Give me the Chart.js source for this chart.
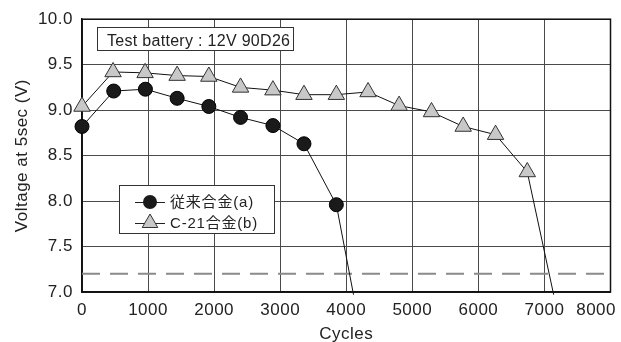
<!DOCTYPE html>
<html lang="ja">
<head>
  <meta charset="UTF-8">
  <title>Voltage at 5sec vs Cycles</title>
  <script src="https://cdn.jsdelivr.net/npm/chart.js"></script>
  <style>
    html, body {
      margin: 0;
      padding: 0;
      background: #fff;
    }
    #wrap {
      width: 621px;
      height: 342px;
      position: relative;
    }
  </style>
</head>
<body>
  <div id="wrap"><canvas id="chart"></canvas></div>

  <script>
    // 従来合金(a)
    const cyclesA = [0, 480, 960, 1440, 1920, 2400, 2890, 3360, 3850, 4110];
    const voltA   = [8.82, 9.21, 9.23, 9.13, 9.04, 8.92, 8.83, 8.63, 7.96, 6.97];
    // C-21合金(b)
    const cyclesB = [0, 470, 955, 1440, 1920, 2400, 2890, 3360, 3850, 4330, 4800, 5290, 5770, 6260, 6740, 7140];
    const voltB   = [9.04, 9.42, 9.41, 9.38, 9.37, 9.25, 9.22, 9.17, 9.17, 9.20, 9.05, 8.98, 8.82, 8.73, 8.32, 6.97];

    const seriesNames = ['従来合金(a)', 'C-21合金(b)'];
    const xTickLabels = ['0', '1000', '2000', '3000', '4000', '5000', '6000', '7000', '8000'];
    const yTickLabels = ['7.0', '7.5', '8.0', '8.5', '9.0', '9.5', '10.0'];
    const limitVoltage = 7.2;
    const noteText = 'Test battery : 12V 90D26';

    const FONT = "'Liberation Sans', Arial, sans-serif";
    const JFONT = "'Liberation Sans', 'Noto Sans CJK JP', sans-serif";

    const toPoints = (xs, ys) => xs.map((x, i) => ({ x: x, y: ys[i] }));
    // last point of each series is where the line leaves the plot: no marker
    const radii = (n, r) => Array.from({ length: n }, (_, i) => (i === n - 1 ? 0 : r));

    const extras = {
      id: 'extras',
      beforeDraw(chart) {
        chart.ctx.letterSpacing = '0.5px';
      },
      beforeDatasetsDraw(chart) {
        const { ctx, chartArea: a } = chart;
        ctx.save();
        ctx.strokeStyle = '#111';
        ctx.lineWidth = 1.5;
        ctx.strokeRect(a.left, a.top, a.right - a.left, a.bottom - a.top);
        ctx.restore();
      },
      afterDraw(chart) {
        const { ctx, chartArea: a } = chart;
        const xs = chart.scales.x;
        ctx.save();
        ctx.letterSpacing = '0.5px';
        ctx.fillStyle = '#222';
        ctx.textBaseline = 'alphabetic';

        // x tick labels
        ctx.font = '17px ' + FONT;
        xTickLabels.forEach(t => {
          const px = xs.getPixelForValue(Number(t));
          const w = ctx.measureText(t).width;
          ctx.textAlign = 'center';
          let cx = px;
          if (px + w / 2 > chart.width - 4) cx = chart.width - 5 - w / 2;
          ctx.fillText(t, cx, 315);
        });
        // x title
        ctx.textAlign = 'center';
        ctx.fillText('Cycles', (a.left + a.right) / 2, 339);

        // note box
        ctx.fillStyle = '#fff';
        ctx.fillRect(97, 27, 197, 23);
        ctx.strokeStyle = '#333';
        ctx.lineWidth = 1;
        ctx.strokeRect(97.5, 27.5, 196, 23);
        ctx.fillStyle = '#222';
        ctx.font = '16px ' + FONT;
        ctx.letterSpacing = '0.3px';
        ctx.textAlign = 'left';
        ctx.fillText(noteText, 107, 46);

        // legend box
        ctx.fillStyle = '#fff';
        ctx.fillRect(119, 185, 155, 48);
        ctx.strokeStyle = '#333';
        ctx.strokeRect(119.5, 185.5, 155, 48);
        const rows = [202, 223];
        rows.forEach((y, i) => {
          ctx.strokeStyle = '#222';
          ctx.lineWidth = 1;
          ctx.beginPath();
          ctx.moveTo(135, y + 0.5);
          ctx.lineTo(165, y + 0.5);
          ctx.stroke();
          ctx.beginPath();
          if (i === 0) {
            ctx.fillStyle = '#1a1a1a';
            ctx.arc(150, y, 7, 0, Math.PI * 2);
            ctx.fill();
          } else {
            const r = 9;
            ctx.fillStyle = '#c8c8c8';
            ctx.strokeStyle = '#333';
            ctx.moveTo(150, y - r);
            ctx.lineTo(150 + r * 0.866, y + r * 0.5);
            ctx.lineTo(150 - r * 0.866, y + r * 0.5);
            ctx.closePath();
            ctx.fill();
            ctx.stroke();
          }
          ctx.fillStyle = '#222';
          ctx.font = '15px ' + JFONT;
          ctx.letterSpacing = '0.8px';
          ctx.textBaseline = 'middle';
          ctx.fillText(seriesNames[i], 170, y + 1);
          ctx.textBaseline = 'alphabetic';
        });
        ctx.restore();
      }
    };

    new Chart(document.getElementById('chart'), {
      type: 'scatter',
      data: {
        datasets: [
          {
            label: seriesNames[0],
            data: toPoints(cyclesA, voltA),
            showLine: true,
            borderColor: '#111',
            borderWidth: 1,
            pointRadius: radii(cyclesA.length, 7),
            pointBackgroundColor: '#1a1a1a',
            pointBorderColor: '#000',
            pointBorderWidth: 1,
            clip: false
          },
          {
            label: seriesNames[1],
            data: toPoints(cyclesB, voltB),
            showLine: true,
            borderColor: '#111',
            borderWidth: 1,
            pointStyle: 'triangle',
            pointRadius: radii(cyclesB.length, 9.5),
            pointBackgroundColor: '#c8c8c8',
            pointBorderColor: '#333',
            pointBorderWidth: 1,
            clip: false
          },
          {
            label: 'limit',
            data: [{ x: 0, y: limitVoltage }, { x: 8000, y: limitVoltage }],
            showLine: true,
            borderColor: '#8a8a8a',
            borderWidth: 2,
            borderDash: [18, 10],
            pointRadius: 0
          }
        ]
      },
      options: {
        responsive: true,
        maintainAspectRatio: false,
        animation: false,
        layout: { padding: { top: 19, right: 10, left: 0, bottom: 0 } },
        plugins: {
          legend: { display: false },
          tooltip: { enabled: false }
        },
        scales: {
          x: {
            type: 'linear',
            min: 0,
            max: 8000,
            ticks: { stepSize: 1000, display: false },
            grid: { color: '#4a4a4a', lineWidth: 1, drawTicks: false },
            border: { color: '#111', width: 1.5 },
            afterFit(scale) { scale.height = 50; }
          },
          y: {
            min: 7,
            max: 10,
            ticks: {
              stepSize: 0.5,
              padding: 9,
              color: '#222',
              font: { family: FONT, size: 17 },
              callback: (v) => yTickLabels[Math.round((v - 7) * 2)]
            },
            grid: { color: '#4a4a4a', lineWidth: 1, drawTicks: false },
            border: { color: '#111', width: 1.5 },
            title: {
              display: true,
              text: 'Voltage at 5sec (V)',
              color: '#222',
              font: { family: FONT, size: 17 },
              padding: { top: 12, bottom: 0 }
            },
            afterFit(scale) { scale.width = 82; }
          }
        }
      },
      plugins: [extras]
    });
  </script>
</body>
</html>
